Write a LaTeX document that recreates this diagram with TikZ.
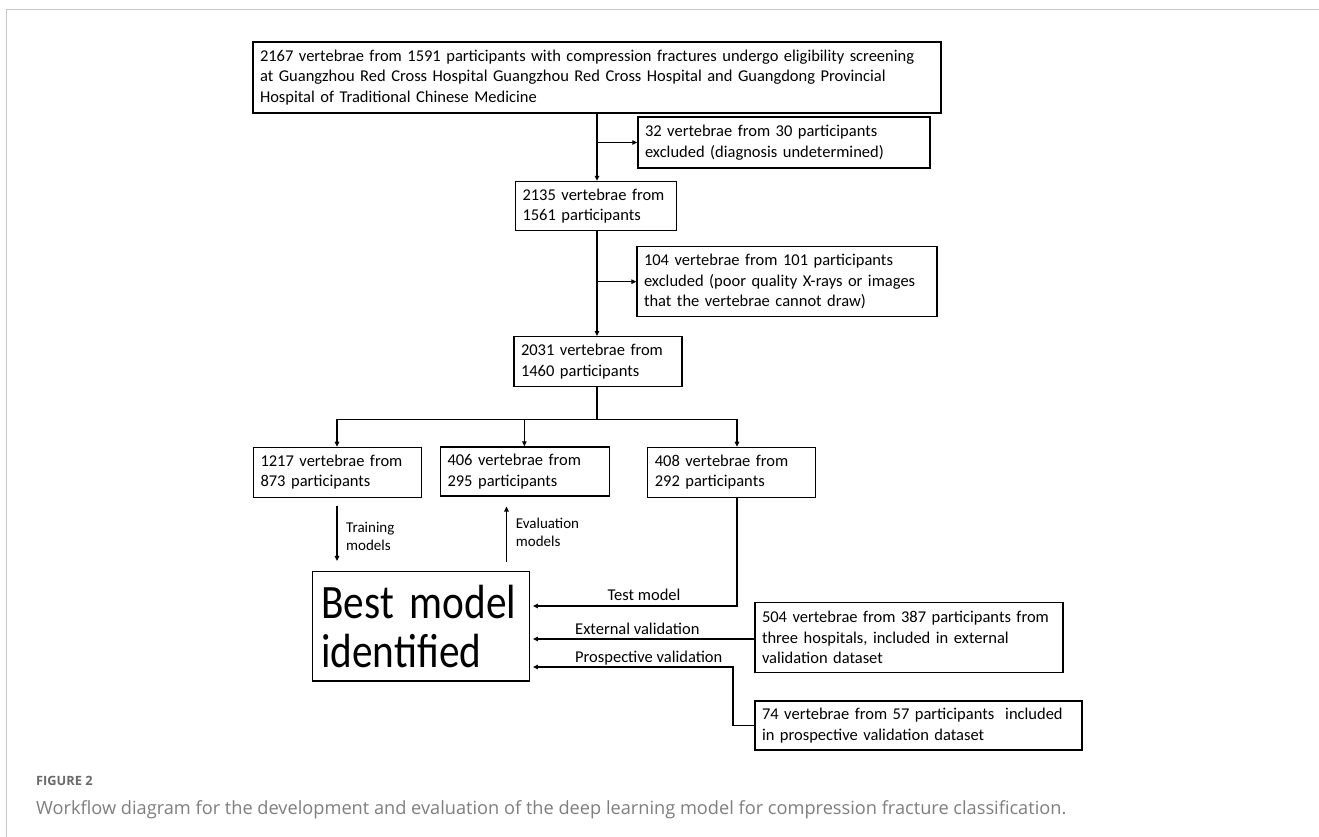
\documentclass[tikz,border=0pt]{standalone}
\usepackage{fontspec}
\setmainfont{Carlito}
\newfontfamily\capfont{Open Sans}
\newfontfamily\bestfont[FakeStretch=0.86]{Carlito}
\usetikzlibrary{arrows.meta}
\definecolor{framegray}{HTML}{C8C8C8}
\definecolor{capgray}{HTML}{7F7F7F}
\definecolor{figgray}{HTML}{6A6A6A}
\begin{document}
\begin{tikzpicture}[x=1pt,y=-1pt,
  box/.style={draw, line width=1.3pt, inner xsep=7pt, inner ysep=0pt, align=left,
    font=\fontsize{16.5}{20.5}\selectfont},
  lbl/.style={inner sep=0pt, font=\fontsize{16.5}{20}\selectfont},
  slbl/.style={inner sep=0pt, align=left, font=\fontsize{15}{18.5}\selectfont},
  conn/.style={line width=1.2pt},
  arr/.style={line width=1.2pt, -{Triangle[length=5pt,width=4.5pt]}},
  frameline/.style={draw=framegray, line width=1.5pt}]
\useasboundingbox (0,0) rectangle (1319,837);
\fill[white] (0,0) rectangle (1319,837);
\draw[frameline] (6.5,837) -- (6.5,9.5) -- (1319,9.5);

% boxes
\node[box, text width=674pt, minimum height=71pt] (top) at (597,77.5)
 {2167 vertebrae from 1591 participants with compression fractures undergo eligibility screening\\
  at Guangzhou Red Cross Hospital Guangzhou Red Cross Hospital and Guangdong Provincial\\
  Hospital of Traditional Chinese Medicine};
\node[box, text width=278pt, minimum height=51pt] (ex1) at (784,142.5)
 {32 vertebrae from 30 participants\\ excluded (diagnosis undetermined)};
\node[box, text width=147pt, minimum height=49pt] (b2135) at (596,206)
 {2135 vertebrae from\\ 1561 participants};
\node[box, text width=286pt, minimum height=70pt] (ex2) at (787,281.7)
 {104 vertebrae from 101 participants\\ excluded (poor quality X-rays or images\\ that the vertebrae cannot draw)};
\node[box, text width=154pt, minimum height=50pt] (b2031) at (598,361.7)
 {2031 vertebrae from\\ 1460 participants};
\node[box, text width=154pt, minimum height=50pt] (b1217) at (337.5,472.3)
 {1217 vertebrae from\\ 873 participants};
\node[box, text width=155pt, minimum height=49pt] (b406) at (525,471.4)
 {406 vertebrae from\\ 295 participants};
\node[box, text width=154pt, minimum height=50pt] (b408) at (731.8,472.3)
 {408 vertebrae from\\ 292 participants};
\node[box, inner xsep=9pt, text width=199pt, minimum height=109.5pt,
  font=\bestfont\fontsize{48}{49}\selectfont] (best) at (420.8,626.3)
 {Best model\\ identified};
\node[box, text width=294pt, minimum height=70pt] (b504) at (909,637.6)
 {504 vertebrae from 387 participants from\\ three hospitals, included in external\\ validation dataset};
\node[box, text width=313pt, minimum height=49pt] (b74) at (918.5,725.5)
 {74 vertebrae from 57 participants\ \ included\\ in prospective validation dataset};

% trunk
\coordinate (trunk) at (597,0);
\draw[arr] (top.south -| trunk) -- (b2135.north -| trunk);
\draw[arr] (ex1.west -| trunk) -- (ex1.west);
\draw[arr] (b2135.south -| trunk) -- (b2031.north -| trunk);
\draw[arr] (ex2.west -| trunk) -- (ex2.west);

\coordinate (split) at (597,419.3);
\coordinate (sL) at (337,419.3);
\coordinate (sM) at (524.4,419.3);
\coordinate (sR) at (737,419.3);
\draw[conn] (b2031.south -| split) -- (split);
\draw[conn] (sL) -- (sR);
\draw[arr] (sL) -- (sL |- b1217.north);
\draw[arr] (sM) -- (sM |- b406.north);
\draw[arr] (sR) -- (sR |- b408.north);

% training / evaluation
\draw[arr] ([yshift=-8pt]b1217.south -| sL) -- ([yshift=10pt]best.north -| sL);
\node[slbl, anchor=north west] (trl) at (346,521.5) {Training\\models};
\coordinate (evb) at (506.5,562);
\draw[arr] (evb) -- ([yshift=-10pt]b406.south -| evb);
\node[slbl, anchor=north west] (evl) at (515.7,517.5) {Evaluation\\models};

% test / external / prospective
\coordinate (tc) at (737,606);
\draw[arr] (b408.south -| tc) -- (tc) -- ([xshift=3pt]best.east |- tc);
\node[lbl, anchor=base] (tml) at (644,600.5) {Test model};
\coordinate (ec) at (755,639);
\draw[arr] (b504.west |- ec) -- ([xshift=3pt]best.east |- ec);
\node[lbl, anchor=base west] (evl2) at (575,634) {External validation};
\coordinate (pc) at (733,667);
\draw[arr] (b74.west) -- (b74.west -| pc) -- (pc) -- ([xshift=3pt]best.east |- pc);
\node[lbl, anchor=base west] (pvl) at (575,662.7) {Prospective validation};

% caption
\node[anchor=base west, inner sep=0pt, text=figgray,
  font=\capfont\bfseries\fontsize{12.8}{16}\selectfont] (figno) at (36,785) {FIGURE 2};
\node[anchor=base west, inner sep=0pt, text=capgray,
  font=\capfont\fontsize{18.2}{22}\selectfont] (cap) at (36,814)
 {Workflow diagram for the development and evaluation of the deep learning model for compression fracture classification.};
\end{tikzpicture}
\end{document}
